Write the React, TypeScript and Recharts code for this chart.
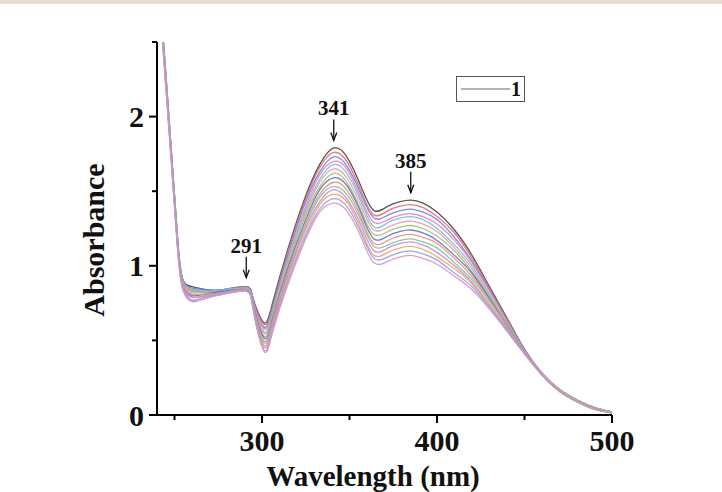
import React from 'react';
import { LineChart, Line, XAxis, YAxis, Legend, ReferenceDot } from 'recharts';

const FONT = '"Liberation Serif", "Times New Roman", serif';

// sampled wavelengths (nm)
const wavelengths = [240, 244, 248, 252, 255, 260, 268, 278, 291, 295, 301, 306, 315, 325, 333, 341, 349, 357, 364, 372, 379, 385, 392, 400, 410, 420, 430, 440, 450, 460, 470, 480, 490, 500];

// absorbance of each titration step, top (1) to bottom
const spectrum1 = [3.10, 2.44, 1.80, 1.14, 0.90, 0.86, 0.84, 0.84, 0.86, 0.78, 0.62, 0.75, 1.12, 1.47, 1.68, 1.79, 1.72, 1.52, 1.37, 1.40, 1.43, 1.44, 1.42, 1.36, 1.24, 1.07, 0.86, 0.65, 0.44, 0.28, 0.17, 0.10, 0.05, 0.02];
const spectrum2 = [3.08, 2.42, 1.78, 1.12, 0.88, 0.84, 0.83, 0.84, 0.86, 0.77, 0.61, 0.73, 1.10, 1.45, 1.66, 1.76, 1.69, 1.49, 1.34, 1.37, 1.40, 1.41, 1.39, 1.33, 1.22, 1.05, 0.85, 0.64, 0.44, 0.28, 0.17, 0.10, 0.05, 0.02];
const spectrum3 = [3.12, 2.46, 1.81, 1.15, 0.90, 0.85, 0.84, 0.84, 0.86, 0.77, 0.59, 0.72, 1.08, 1.43, 1.63, 1.73, 1.66, 1.47, 1.32, 1.34, 1.37, 1.38, 1.36, 1.31, 1.19, 1.03, 0.84, 0.64, 0.44, 0.28, 0.17, 0.10, 0.05, 0.02];
const spectrum4 = [3.06, 2.41, 1.77, 1.11, 0.87, 0.83, 0.83, 0.83, 0.85, 0.76, 0.58, 0.70, 1.06, 1.40, 1.61, 1.70, 1.64, 1.44, 1.29, 1.31, 1.34, 1.35, 1.33, 1.28, 1.17, 1.02, 0.83, 0.63, 0.43, 0.28, 0.17, 0.10, 0.05, 0.02];
const spectrum5 = [3.10, 2.44, 1.79, 1.13, 0.89, 0.84, 0.83, 0.84, 0.85, 0.76, 0.56, 0.69, 1.05, 1.38, 1.58, 1.68, 1.61, 1.42, 1.26, 1.29, 1.32, 1.33, 1.31, 1.25, 1.14, 1.00, 0.81, 0.62, 0.43, 0.28, 0.17, 0.10, 0.05, 0.02];
const spectrum6 = [3.05, 2.40, 1.76, 1.10, 0.86, 0.82, 0.82, 0.83, 0.85, 0.75, 0.55, 0.67, 1.03, 1.36, 1.56, 1.65, 1.58, 1.39, 1.24, 1.26, 1.29, 1.30, 1.28, 1.23, 1.12, 0.98, 0.80, 0.62, 0.43, 0.28, 0.17, 0.10, 0.05, 0.02];
const spectrum7 = [3.11, 2.45, 1.80, 1.14, 0.89, 0.83, 0.82, 0.83, 0.85, 0.74, 0.53, 0.66, 1.01, 1.34, 1.53, 1.62, 1.55, 1.36, 1.21, 1.23, 1.26, 1.27, 1.25, 1.20, 1.10, 0.96, 0.79, 0.61, 0.43, 0.27, 0.17, 0.10, 0.05, 0.02];
const spectrum8 = [3.04, 2.39, 1.75, 1.10, 0.86, 0.80, 0.81, 0.83, 0.84, 0.74, 0.52, 0.64, 0.99, 1.31, 1.51, 1.59, 1.53, 1.34, 1.18, 1.20, 1.23, 1.24, 1.22, 1.17, 1.07, 0.95, 0.78, 0.60, 0.42, 0.27, 0.16, 0.09, 0.04, 0.015];
const spectrum9 = [3.09, 2.43, 1.78, 1.12, 0.87, 0.81, 0.81, 0.82, 0.84, 0.73, 0.50, 0.63, 0.97, 1.29, 1.48, 1.56, 1.50, 1.31, 1.15, 1.17, 1.20, 1.21, 1.19, 1.15, 1.05, 0.93, 0.77, 0.60, 0.42, 0.27, 0.16, 0.09, 0.04, 0.015];
const spectrum10 = [3.03, 2.38, 1.74, 1.09, 0.85, 0.79, 0.80, 0.82, 0.84, 0.73, 0.49, 0.61, 0.95, 1.27, 1.46, 1.53, 1.47, 1.29, 1.13, 1.14, 1.17, 1.18, 1.16, 1.12, 1.02, 0.91, 0.76, 0.59, 0.42, 0.27, 0.16, 0.09, 0.04, 0.015];
const spectrum11 = [3.08, 2.42, 1.77, 1.11, 0.86, 0.79, 0.80, 0.82, 0.84, 0.72, 0.47, 0.60, 0.94, 1.25, 1.43, 1.51, 1.44, 1.26, 1.10, 1.12, 1.15, 1.16, 1.14, 1.09, 1.00, 0.89, 0.74, 0.58, 0.42, 0.27, 0.16, 0.09, 0.04, 0.015];
const spectrum12 = [3.02, 2.37, 1.73, 1.08, 0.84, 0.77, 0.79, 0.81, 0.83, 0.71, 0.46, 0.58, 0.92, 1.22, 1.41, 1.48, 1.42, 1.23, 1.07, 1.09, 1.12, 1.13, 1.11, 1.06, 0.98, 0.88, 0.73, 0.57, 0.41, 0.27, 0.16, 0.09, 0.04, 0.015];
const spectrum13 = [3.07, 2.41, 1.76, 1.10, 0.85, 0.77, 0.79, 0.81, 0.83, 0.71, 0.44, 0.57, 0.90, 1.20, 1.38, 1.45, 1.39, 1.21, 1.05, 1.06, 1.09, 1.10, 1.08, 1.04, 0.95, 0.86, 0.72, 0.57, 0.41, 0.27, 0.16, 0.09, 0.04, 0.015];
const spectrum14 = [3.01, 2.36, 1.72, 1.07, 0.83, 0.76, 0.78, 0.81, 0.83, 0.70, 0.43, 0.55, 0.88, 1.18, 1.36, 1.42, 1.36, 1.18, 1.02, 1.03, 1.06, 1.07, 1.05, 1.01, 0.93, 0.84, 0.71, 0.56, 0.41, 0.27, 0.16, 0.09, 0.04, 0.015];

const spectra = [spectrum1, spectrum2, spectrum3, spectrum4, spectrum5, spectrum6, spectrum7, spectrum8, spectrum9, spectrum10, spectrum11, spectrum12, spectrum13, spectrum14];

const colors = ['#444444', '#e86a64', '#6f7fe0', '#e37fb8', '#6fc0d8', '#e89aa6', '#9cbf6c', '#5a6cc8', '#ef8d7a', '#7cc49a', '#c885d6', '#f2a35a', '#8fa0e8', '#d694c9'];

const xTicks = [250, 300, 350, 400, 450, 500];
const yTicks = [0, 0.5, 1, 1.5, 2, 2.5];

// peak markers: wavelength, arrow tip absorbance, label
const peakWl = [291, 341, 385];
const peakTip = [0.92, 1.84, 1.49];
const peakLabels = ['291', '341', '385'];

const data = wavelengths.map((wl, i) => {
  const row: any = { wl };
  spectra.forEach((s, k) => {
    row['s' + (k + 1)] = s[i];
  });
  return row;
});

const XTick = ({ x, y, payload }: any) => {
  const major = payload.value % 100 === 0;
  return (
    <g>
      <line x1={x} y1={y} x2={x} y2={y + (major ? 8 : 5)} stroke="#000" strokeWidth={2} />
      {major && (
        <text x={x} y={y + 36} textAnchor="middle" fontSize={30} fontWeight="bold" fontFamily={FONT} fill="#111">
          {payload.value}
        </text>
      )}
    </g>
  );
};

const YTick = ({ x, y, payload }: any) => {
  const major = Number.isInteger(payload.value);
  return (
    <g>
      <line x1={x} y1={y} x2={x - (major ? 8 : 5)} y2={y} stroke="#000" strokeWidth={2} />
      {major && (
        <text x={x - 13} y={y} dy="0.35em" textAnchor="end" fontSize={30} fontWeight="bold" fontFamily={FONT} fill="#111">
          {payload.value}
        </text>
      )}
    </g>
  );
};

const XTitle = () => (
  <text x={373} y={486} textAnchor="middle" fontSize={29} fontWeight="bold" fontFamily={FONT} fill="#111">
    Wavelength (nm)
  </text>
);

const YTitle = () => (
  <text x={93} y={240} transform="rotate(-90, 93, 240)" textAnchor="middle" dy="0.35em" fontSize={30} fontWeight="bold" fontFamily={FONT} fill="#111">
    Absorbance
  </text>
);

const peakShape = (label: string) => (props: any) => {
  const { cx, cy } = props;
  return (
    <g>
      <line x1={cx} y1={cy - 21} x2={cx} y2={cy} stroke="#111" strokeWidth={1.3} />
      <path d={`M${cx - 3},${cy - 8} L${cx},${cy} L${cx + 3},${cy - 8}`} fill="none" stroke="#111" strokeWidth={1.3} />
      <text x={cx} y={cy - 25} textAnchor="middle" fontSize={21} fontWeight="bold" fontFamily={FONT} fill="#111">
        {label}
      </text>
    </g>
  );
};

const renderLegend = () => (
  <div style={{ width: 69, height: 26, border: '1px solid #555', boxSizing: 'border-box', display: 'flex', alignItems: 'center', background: '#fff' }}>
    <svg width={67} height={24}>
      <line x1={4} y1={12} x2={53} y2={12} stroke="#999" strokeWidth={1.5} />
      <text x={59} y={12} dy="0.35em" textAnchor="middle" fontSize={20} fontWeight="bold" fontFamily={FONT} fill="#111">1</text>
    </svg>
  </div>
);

export default function App() {
  return (
    <div style={{ position: 'absolute', left: 0, top: 0, width: 722, height: 492, background: '#fff', overflow: 'hidden' }}>
      <div style={{ position: 'absolute', left: 0, top: 0, width: 722, height: 4, background: '#e6dfcf' }} />
      <LineChart width={722} height={492} data={data} margin={{ top: 42, right: 110, bottom: 37, left: 95 }}>
        <XAxis
          dataKey="wl"
          type="number"
          domain={[240, 500]}
          ticks={xTicks}
          interval={0}
          allowDataOverflow
          height={40}
          tickSize={0}
          tickMargin={0}
          tickLine={false}
          axisLine={{ stroke: '#000', strokeWidth: 2 }}
          tick={XTick}
          label={{ content: XTitle }}
        />
        <YAxis
          type="number"
          domain={[0, 2.5]}
          ticks={yTicks}
          interval={0}
          allowDataOverflow
          width={62}
          tickSize={0}
          tickMargin={0}
          tickLine={false}
          axisLine={{ stroke: '#000', strokeWidth: 2 }}
          tick={YTick}
          label={{ content: YTitle }}
        />
        <Legend
          layout="vertical"
          align="center"
          verticalAlign="middle"
          content={renderLegend}
          wrapperStyle={{ position: 'absolute', left: 456, top: 76, width: 69, height: 26, right: 'auto', bottom: 'auto' }}
        />
        {spectra.map((_, k) => (
          <Line
            key={k}
            dataKey={'s' + (k + 1)}
            name={String(k + 1)}
            type="natural"
            stroke={colors[k]}
            strokeWidth={1.3}
            strokeOpacity={0.9}
            dot={false}
            isAnimationActive={false}
          />
        ))}
        {peakWl.map((wl, i) => (
          <ReferenceDot key={wl} x={wl} y={peakTip[i]} r={0} ifOverflow="visible" shape={peakShape(peakLabels[i])} />
        ))}
      </LineChart>
    </div>
  );
}
